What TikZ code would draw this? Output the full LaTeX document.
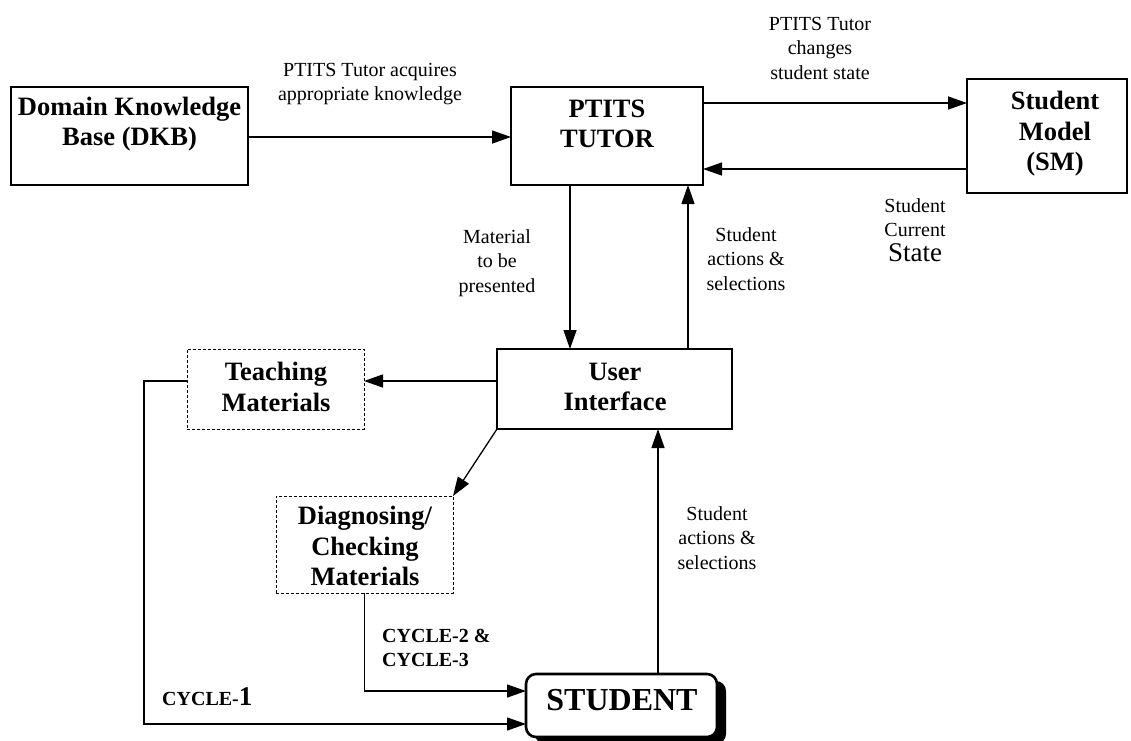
\documentclass[tikz,border=0pt]{standalone}
\usepackage{fontspec}
\setmainfont{Liberation Serif}
\usetikzlibrary{arrows.meta,shadows,calc}
\tikzset{
  boxbase/.style={inner sep=0pt, outer sep=0pt},
  solidbox/.style={boxbase, draw, line width=2.6pt},
  dashbox/.style={boxbase, draw, line width=1pt, dash pattern=on 3pt off 2pt},
  studbox/.style={boxbase, draw, line width=2.6pt, rounded corners=10pt, fill=white,
     drop shadow={shadow xshift=9pt, shadow yshift=-7pt, fill=black, opacity=1}},
  boxtext/.style={align=center, inner sep=0pt, font=\fontsize{26.5}{30.5}\selectfont\bfseries},
  lbl/.style={align=center, inner sep=0pt, font=\fontsize{20}{24.5}\selectfont},
  cyc/.style={align=left, inner sep=0pt, font=\fontsize{20}{24}\selectfont\bfseries},
  arr/.style={line width=1.3pt, -{Triangle[length=19pt,width=13pt]}},
}
\begin{document}
\begin{tikzpicture}[x=1pt,y=-1pt]
\useasboundingbox (0,0) rectangle (1131,740);
% boxes
\node[solidbox, minimum width=237pt, minimum height=98pt] (dkb) at (129.5,136) {};
\node[solidbox, minimum width=192pt, minimum height=98pt] (ptits) at (607,136) {};
\node[solidbox, minimum width=160pt, minimum height=114pt] (sm) at (1047,136) {};
\node[solidbox, minimum width=235pt, minimum height=80pt] (ui) at (614.5,389) {};
\node[dashbox, minimum width=177pt, minimum height=80pt] (tm) at (275.5,389) {};
\node[dashbox, minimum width=177pt, minimum height=97pt] (dc) at (364.5,544.5) {};
\node[studbox, minimum width=191pt, minimum height=63pt] (st) at (621.5,705.5) {};
% box texts
\node[boxtext] (dkbt) at (129.5,124) {Domain Knowledge\\Base (DKB)};
\node[boxtext] (ptitst) at (607,124) {PTITS\\TUTOR};
\node[boxtext] (smt) at (1055,134) {Student\\Model\\(SM)};
\node[boxtext] (uit) at (615,387) {User\\Interface};
\node[boxtext] (tmt) at (276,387) {Teaching\\Materials};
\node[boxtext] (dct) at (365,546) {Diagnosing/\\Checking\\Materials};
\node[boxtext, font=\fontsize{32}{36}\selectfont\bfseries] (stt) at (622,700) {STUDENT};
% labels
\node[lbl] (l1) at (370,84) {PTITS Tutor acquires\\appropriate knowledge};
\node[lbl] (l2) at (820,48) {PTITS Tutor\\changes\\student state};
\node[lbl] (l3) at (915,230) {Student\\Current\\{\fontsize{27}{27}\selectfont State}};
\node[lbl] (l4) at (497,263) {Material\\to be\\presented};
\node[lbl] (l5) at (746,259) {Student\\actions \&\\selections};
\node[lbl] (l6) at (717,538) {Student\\actions \&\\selections};
\node[cyc, anchor=west] (c23) at (382,648) {CYCLE-2 \&\\CYCLE-3};
\node[cyc, anchor=base west] (c1) at (162,705) {CYCLE-{\fontsize{27}{27}\selectfont 1}};
% connectors
\draw[arr] ([yshift=-1pt]dkb.east) -- ([yshift=-1pt]ptits.west);
\draw[arr] ([yshift=33pt]ptits.east) -- ([yshift=33pt]ptits.east -| sm.west);
\draw[arr] ([yshift=-33pt]sm.west) -- ([yshift=-33pt]sm.west -| ptits.east);
\draw[arr] ([xshift=-37pt]ptits.south) -- ([xshift=-37pt]ptits.south |- ui.north);
\draw[arr] ([xshift=81pt]ptits.south |- ui.north) -- ([xshift=81pt]ptits.south);
\draw[arr] ([yshift=8pt]ui.west) -- ([yshift=8pt]ui.west -| tm.east);
\draw[arr] (ui.south west) -- (dc.north east);
\draw[arr] ([xshift=36.5pt]st.north) -- ([xshift=36.5pt]st.north |- ui.south);
\draw[arr] (dc.south) |- ([yshift=14.5pt]st.west);
\draw[arr] ([yshift=8pt]tm.west) -- ++(-43,0) |- ([yshift=-18.5pt]st.west);
\end{tikzpicture}
\end{document}
